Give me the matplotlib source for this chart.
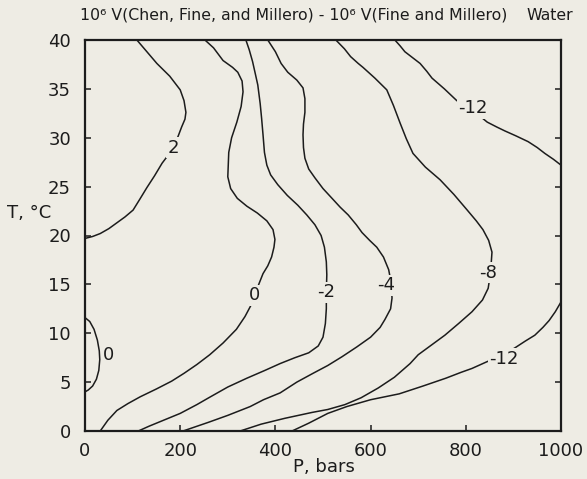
import matplotlib
matplotlib.use("Agg")
import matplotlib.pyplot as plt

# contour lines (P in bars, T in deg C)
p_plus2 = [109, 130, 151, 178, 200, 208, 212, 210, 203, 196, 186, 176, 162, 146, 130, 115, 101, 84, 67, 50, 32, 16, 0]
t_plus2 = [40, 38.8, 37.6, 36.3, 34.9, 33.8, 32.6, 31.9, 31.1, 30.2, 29.0, 28.3, 27.4, 26.1, 24.9, 23.7, 22.6, 21.9, 21.3, 20.7, 20.2, 19.9, 19.7]

p_zero_loop = [0, 10, 19, 26, 30, 31, 29, 24, 16, 7, 0]
t_zero_loop = [11.6, 11.2, 10.4, 9.3, 8.2, 7.3, 6.2, 5.3, 4.6, 4.2, 4.0]

p_zero = [252, 270, 290, 310, 321, 330, 332, 328, 319, 308, 302, 300, 306, 320, 340, 362, 382, 395, 399, 397, 392,
          384, 374, 365, 357, 348, 336, 318, 290, 262, 235, 208, 182, 150, 116, 90, 67, 48, 32]
t_zero = [40, 39.2, 37.9, 37.2, 36.7, 35.8, 34.7, 33.2, 31.6, 30.0, 28.5, 26.0, 24.8, 23.8, 23.0, 22.3, 21.5, 20.6, 19.6, 18.8, 17.8,
          16.9, 16.1, 15.0, 13.9, 12.8, 11.7, 10.4, 9.0, 7.8, 6.8, 5.9, 5.1, 4.3, 3.5, 2.8, 2.1, 1.1, 0]

p_minus2 = [338, 345, 352, 358, 363, 368, 371, 374, 377, 382, 390, 405, 425, 447, 466, 483, 496, 503, 507, 508, 507, 507,
            505, 500, 490, 470, 441, 410, 378, 340, 300, 260, 235, 200, 160, 135, 112]
t_minus2 = [40, 39, 37.8, 36.5, 35.4, 33.5, 32, 30.3, 28.5, 27.2, 26.2, 25.2, 24.1, 23.1, 22.1, 21.1, 20, 18.8, 17.3, 16, 14.2, 12.5,
            11, 9.6, 8.7, 8.0, 7.5, 6.9, 6.2, 5.4, 4.5, 3.4, 2.7, 1.8, 1.0, 0.5, 0]

p_minus4 = [384, 400, 412, 426, 445, 458, 462, 462, 459, 458, 459, 462, 470, 483, 500, 519, 536, 553, 570, 582, 598, 613,
            627, 638, 643, 645, 642, 630, 620, 600, 571, 540, 510, 479, 445, 410, 375, 347, 300, 260, 230, 206]
t_minus4 = [40, 38.8, 37.6, 36.7, 35.9, 35.1, 34, 32.6, 31.4, 30.3, 29, 27.9, 26.8, 25.9, 24.8, 23.8, 22.9, 22.1, 21.1, 20.3, 19.5, 18.8,
            17.8, 16.5, 15.2, 13.6, 12.5, 11.4, 10.6, 9.6, 8.6, 7.6, 6.7, 5.9, 5.0, 3.9, 3.2, 2.5, 1.6, 0.9, 0.4, 0]

p_minus8 = [527, 545, 558, 574, 584, 609, 634, 648, 662, 675, 689, 715, 746, 775, 803, 822, 836, 848, 855, 852, 847,
            835, 813, 785, 756, 728, 700, 683, 650, 616, 580, 546, 510, 477, 420, 370, 326]
t_minus8 = [40, 39.1, 38.3, 37.6, 37.2, 36.1, 34.9, 33.3, 31.5, 29.9, 28.4, 27, 25.7, 24.2, 22.6, 21.5, 20.6, 19.5, 18.3, 16.2, 14.6,
            13.4, 12.2, 11, 9.8, 8.8, 7.8, 6.9, 5.5, 4.4, 3.4, 2.7, 2.2, 1.9, 1.3, 0.7, 0]

p_minus12_top = [651, 662, 672, 688, 704, 718, 729, 755, 781, 800, 815, 830, 845, 865, 882, 905, 931, 950, 966, 984, 1000]
t_minus12_top = [40, 39.4, 38.8, 38.2, 37.6, 36.8, 36.1, 35, 33.8, 33.2, 32.7, 32.2, 31.6, 31.1, 30.7, 30.2, 29.6, 29, 28.4, 27.8, 27.2]

p_minus12_low = [435, 470, 510, 550, 600, 660, 710, 758, 790, 813, 845, 865, 882, 903, 925, 945, 962, 975, 988, 1000]
t_minus12_low = [0, 0.8, 1.8, 2.5, 3.2, 3.8, 4.6, 5.4, 6.0, 6.4, 7.1, 7.5, 7.9, 8.5, 9.2, 9.8, 10.6, 11.3, 12.2, 13.2]

# contour labels: text, P, T
label_text = ["2", "0", "0", "-2", "-4", "-8", "-12", "-12"]
label_p = [186, 49, 357, 506, 632, 846, 815, 880]
label_t = [29.0, 7.8, 13.9, 14.2, 14.9, 16.2, 33.0, 7.4]

x_ticks = [0, 200, 400, 600, 800, 1000]
y_ticks = [0, 5, 10, 15, 20, 25, 30, 35, 40]

bg = "#eeece4"
ink = "#1c1c1c"

fig = plt.figure(figsize=(5.87, 4.79), dpi=100, facecolor=bg)
ax = fig.add_axes([85 / 587, 1 - 431 / 479, 476 / 587, 391 / 479])
ax.set_facecolor(bg)

lines = [
    (p_plus2, t_plus2), (p_zero_loop, t_zero_loop), (p_zero, t_zero),
    (p_minus2, t_minus2), (p_minus4, t_minus4), (p_minus8, t_minus8),
    (p_minus12_top, t_minus12_top), (p_minus12_low, t_minus12_low),
]
for p, t in lines:
    ax.plot(p, t, color=ink, lw=1.1, solid_capstyle="round", solid_joinstyle="round")

for s, p, t in zip(label_text, label_p, label_t):
    ax.text(p, t, s, fontsize=13, color=ink, ha="center", va="center",
            bbox=dict(boxstyle="square,pad=0.08", fc=bg, ec="none"))

ax.set_xlim(0, 1000)
ax.set_ylim(0, 40)
ax.set_xticks(x_ticks)
ax.set_yticks(y_ticks)
ax.tick_params(direction="in", length=4.5, width=1.1, labelsize=13, colors=ink,
               right=True, top=False, pad=8)
ax.tick_params(axis="y", pad=10)
for side in ax.spines.values():
    side.set_linewidth(1.6)
    side.set_color(ink)

fig.text(293 / 587, 1 - 467 / 479, "P, bars", fontsize=13, color=ink, ha="left", va="center")
fig.text(7 / 587, 1 - 213 / 479, "T, \u00b0C", fontsize=13, color=ink, ha="left", va="center")
fig.text(80 / 587, 1 - 15 / 479, "10\u2076 V(Chen, Fine, and Millero) - 10\u2076 V(Fine and Millero)",
         fontsize=11.3, color=ink, ha="left", va="center")
fig.text(573 / 587, 1 - 15 / 479, "Water", fontsize=11.3, color=ink, ha="right", va="center")

fig.savefig("out.png", dpi=100, facecolor=bg)
